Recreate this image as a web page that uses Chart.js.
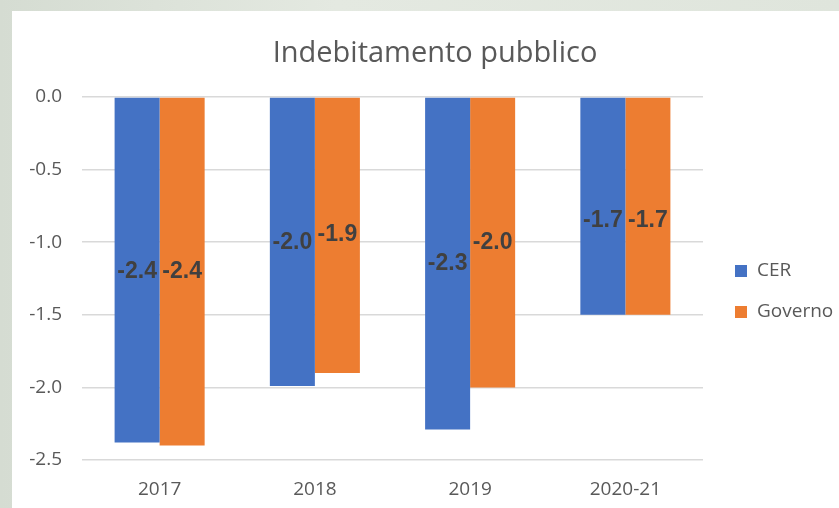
<!DOCTYPE html>
<html>
<head>
<meta charset="utf-8">
<script src="https://cdn.jsdelivr.net/npm/chart.js@4/dist/chart.umd.min.js"></script>
<style>
  html, body { margin: 0; padding: 0; }
  body {
    width: 839px;
    height: 508px;
    overflow: hidden;
    background: linear-gradient(90deg, #d5dcd2 0%, #e4e9e1 40%, #dfe5dc 100%);
    position: relative;
  }
  #box {
    position: absolute;
    left: 12px;
    top: 11px;
    width: 827px;
    height: 497px;
    background: #ffffff;
  }
</style>
</head>
<body>
<div id="box"><canvas id="chart" width="827" height="497"></canvas></div>
<script>
const titolo = 'Indebitamento pubblico';
const categorie = ['2017', '2018', '2019', '2020-21'];
const valoriCER = [-2.38, -1.99, -2.29, -1.5];
const valoriGoverno = [-2.4, -1.9, -2.0, -1.5];
// etichette come appaiono nel grafico originale
const etichetteCER = [-2.4, -2.0, -2.3, -1.7];
const etichetteGoverno = [-2.4, -1.9, -2.0, -1.7];
const tickY = [0, -0.5, -1.0, -1.5, -2.0, -2.5];

const blu = '#4472C4';
const arancio = '#ED7D31';
const grigio = '#595959';

// titolo centrato sul riquadro
const pluginTitolo = {
  id: 'titolo',
  afterDraw(chart) {
    const { ctx } = chart;
    ctx.save();
    ctx.font = '29px "Open Sans", sans-serif';
    ctx.fillStyle = grigio;
    ctx.textAlign = 'center';
    ctx.textBaseline = 'middle';
    ctx.fillText(titolo, 423, 43);
    ctx.restore();
  },
};

// etichette dati al centro della barra
const pluginEtichette = {
  id: 'etichette',
  afterDatasetsDraw(chart) {
    const { ctx } = chart;
    const y = chart.scales.y;
    const liste = [etichetteCER, etichetteGoverno];
    ctx.save();
    ctx.font = 'bold 23px "Liberation Sans", Arial, sans-serif';
    ctx.fillStyle = '#404040';
    ctx.textAlign = 'center';
    ctx.textBaseline = 'middle';
    chart.data.datasets.forEach((ds, i) => {
      chart.getDatasetMeta(i).data.forEach((bar, j) => {
        const v = liste[i][j];
        ctx.fillText(v.toFixed(1), bar.x, y.getPixelForValue(v / 2));
      });
    });
    ctx.restore();
  },
};

// legenda a destra
const pluginLegenda = {
  id: 'legenda',
  afterDraw(chart) {
    const { ctx } = chart;
    ctx.save();
    ctx.font = '19px "Open Sans", sans-serif';
    ctx.textBaseline = 'middle';
    chart.data.datasets.forEach((ds, i) => {
      const cy = 260 + i * 41;
      ctx.fillStyle = ds.backgroundColor;
      ctx.fillRect(723, cy - 6, 12, 12);
      ctx.fillStyle = grigio;
      ctx.fillText(ds.label, 745, cy);
    });
    ctx.restore();
  },
};

new Chart(document.getElementById('chart'), {
  type: 'bar',
  data: {
    labels: categorie,
    datasets: [
      { label: 'CER', data: valoriCER, backgroundColor: blu },
      { label: 'Governo', data: valoriGoverno, backgroundColor: arancio },
    ],
  },
  options: {
    responsive: false,
    animation: false,
    layout: { padding: { left: 0, right: 136, top: 86, bottom: 0 } },
    datasets: { bar: { categoryPercentage: 0.58, barPercentage: 1 } },
    plugins: {
      legend: { display: false },
      tooltip: { enabled: false },
      title: { display: false },
    },
    scales: {
      x: {
        grid: { display: false, drawTicks: false },
        border: { display: false },
        ticks: {
          color: grigio,
          padding: 18,
          font: { family: '"Open Sans", sans-serif', size: 19 },
        },
        afterFit(scale) { scale.height = 48; },
      },
      y: {
        min: -2.5,
        max: 0,
        afterBuildTicks(scale) { scale.ticks = tickY.map((v) => ({ value: v })); },
        grid: { color: '#d9d9d9', lineWidth: 1.5, drawTicks: false },
        border: { display: false },
        ticks: {
          color: grigio,
          padding: 20,
          font: { family: '"Open Sans", sans-serif', size: 19 },
          callback: (v) => Number(v).toFixed(1),
        },
        afterFit(scale) { scale.width = 70; },
      },
    },
  },
  plugins: [pluginTitolo, pluginEtichette, pluginLegenda],
});
</script>
</body>
</html>
